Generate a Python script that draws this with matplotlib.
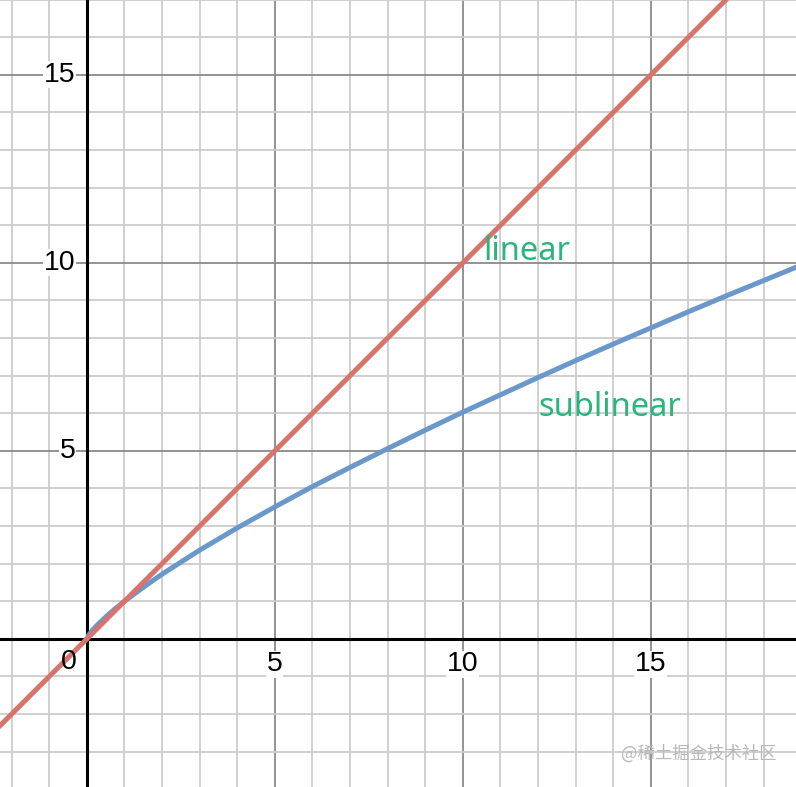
import matplotlib
matplotlib.use("Agg")
import matplotlib.pyplot as plt
import numpy as np

# Data
linear_x = [-2.4, 19.0]
linear_y = [-2.4, 19.0]
sub_x = [0, 0.05, 0.15, 0.3, 0.5, 0.75, 1, 1.5, 2, 3, 4, 5, 6, 7, 8, 9, 10, 11, 12, 13, 14, 15, 16, 17, 18, 19]
sub_y = [0, 0.10, 0.23, 0.39, 0.58, 0.80, 1.0, 1.37, 1.72, 2.36, 2.95, 3.51, 4.05, 4.56, 5.06, 5.55, 6.03, 6.49, 6.95, 7.40, 7.84, 8.27, 8.70, 9.12, 9.53, 9.94]
x_ticks = [5, 10, 15]
y_ticks = [5, 10, 15]

plt.rcParams['font.family'] = ['Liberation Sans', 'DejaVu Sans']
fig = plt.figure(figsize=(7.96, 7.87), dpi=100)
ax = fig.add_axes([0, 0, 1, 1])
ax.set_xlim(-2.31, 18.86)
ax.set_ylim(-3.94, 16.99)
ax.set_axis_off()

# grid
for v in range(-3, 20):
    major = (v % 5 == 0)
    c = '#8a8a8a' if major else '#cccccc'
    ax.axvline(v, color=c, lw=1.3, zorder=1)
for v in range(-4, 18):
    major = (v % 5 == 0)
    c = '#8a8a8a' if major else '#cccccc'
    ax.axhline(v, color=c, lw=1.3, zorder=1)
ax.axvline(0, color='black', lw=2.2, zorder=2)
ax.axhline(0, color='black', lw=2.2, zorder=2)

ax.plot(linear_x, linear_y, color='#d8736d', lw=3.6, zorder=4, solid_capstyle='round')
ax.plot(sub_x, sub_y, color='#6b98cb', lw=3.6, zorder=3, solid_capstyle='round')

bb = dict(facecolor='white', edgecolor='none', pad=0.5, alpha=0.95)
for t in x_ticks:
    ax.text(t, -0.33, str(t), ha='center', va='top', fontsize=20.5, zorder=5, bbox=bb)
for t in y_ticks:
    ax.text(-0.3, t, str(t), ha='right', va='center', fontsize=20.5, zorder=5, bbox=bb)
ax.text(-0.28, -0.28, '0', ha='right', va='top', fontsize=20.5, zorder=5)

ax.text(10.55, 10.3, 'linear', color='#2bb57c', fontsize=23.5, ha='left', va='center', zorder=6,
        family=['Noto Sans', 'DejaVu Sans'])
ax.text(12.0, 6.15, 'sublinear', color='#2bb57c', fontsize=23.5, ha='left', va='center', zorder=6,
        family=['Noto Sans', 'DejaVu Sans'])

fig.text(0.975, 0.042, '@稀土掘金技术社区', color='#b8b8b8', fontsize=12.5, ha='right', va='center',
         family=['Noto Sans CJK SC', 'DejaVu Sans'], zorder=7)

fig.savefig('out.png', dpi=100)
